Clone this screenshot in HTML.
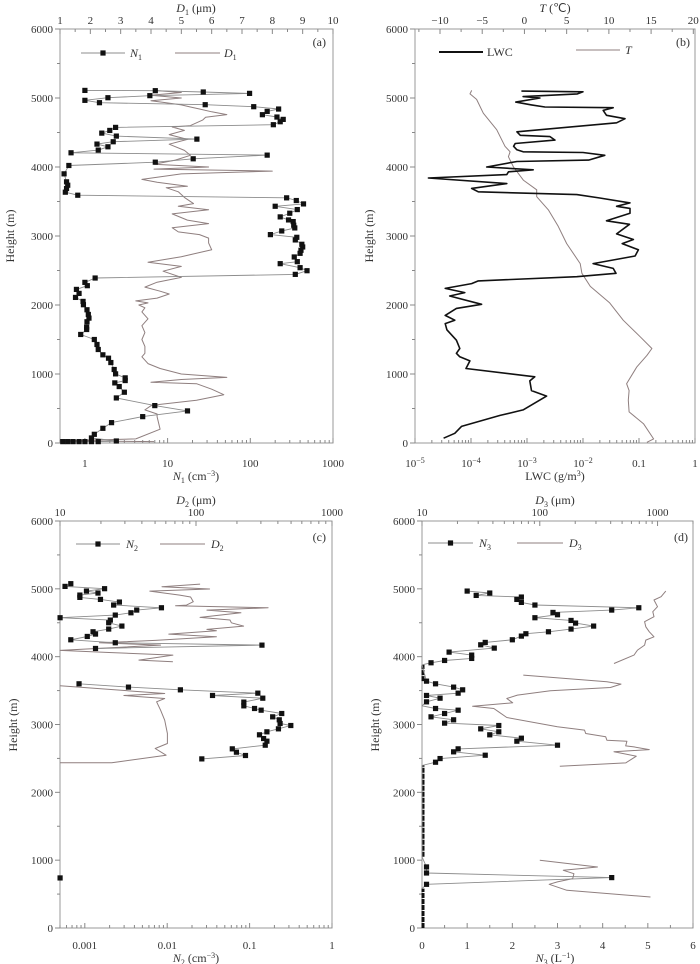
<!DOCTYPE html>
<html><head><meta charset="utf-8"><style>
body{margin:0;background:#fff;}
svg{display:block;font-family:"Liberation Serif",serif;}
</style></head><body>
<svg id="c" width="700" height="964" viewBox="0 0 700 964" xmlns="http://www.w3.org/2000/svg"></svg>
<script>
// ---------- DATA ----------
// Panel (a)
const n1Height=[5110,5106,5087,5067,5034,5004,4966,4932,4903,4874,4840,4806,4758,4724,4690,4656,4613,4574,4530,4491,4448,4404,4366,4332,4293,4245,4206,4172,4119,4070,4022,3901,3785,3736,3688,3635,3591,3553,3514,3465,3431,3383,3330,3277,3233,3209,3156,3117,3073,3020,2981,2943,2880,2841,2793,2749,2696,2628,2599,2541,2497,2444,2391,2328,2280,2226,2168,2110,2052,2004,1931,1863,1810,1757,1679,1645,1573,1500,1428,1355,1278,1229,1166,1065,1002,944,905,871,818,736,653,542,465,382,295,213,126,73,29,20,20,20,20,20,20,20];
const n1Value=[1,7.1,27,98,6.1,1.9,1.0,1.5,28.5,110,220,160,140,210,250,230,190,2.35,2.0,1.6,2.4,22.6,2.2,1.4,1.9,1.45,0.68,160,20.4,7.1,0.64,0.56,0.6,0.62,0.6,0.58,0.82,275,360,440,200,370,300,230,290,330,335,345,240,175,365,350,420,430,410,400,340,370,230,400,485,350,1.33,1.0,1.07,0.79,0.85,0.77,0.95,0.96,1.06,1.1,1.12,1.06,1.05,1.05,0.89,1.3,1.4,1.45,1.65,1.93,2.06,2.26,2.35,3.07,3.07,2.3,2.6,3.0,2.4,7.0,17.4,5.0,2.1,1.65,1.3,1.2,2.4,1.45,1.2,1.0,0.85,0.72,0.62,0.54];
const d1Height=[5110,5080,5040,5000,4960,4930,4900,4870,4840,4800,4760,4720,4680,4640,4600,4580,4530,4470,4400,4330,4240,4170,4100,4040,4000,3970,3940,3900,3820,3780,3720,3700,3640,3560,3470,3430,3380,3320,3230,3180,3120,3060,3020,2970,2900,2800,2700,2620,2560,2490,2400,2330,2260,2200,2160,2100,2060,2030,2000,1960,1900,1800,1700,1600,1500,1400,1300,1250,1150,1080,1000,950,920,880,860,780,700,620,560,540,480,420,380,200,60,30,20];
const d1Value=[4.1,5.0,4.0,5.0,4.0,4.5,5.0,5.3,5.6,6.0,6.5,5.8,5.7,5.5,5.3,4.7,5.1,4.6,5.2,4.6,5.1,5.3,4.8,4.1,5.9,4.1,8.0,5.0,3.7,4.2,5.2,4.5,4.9,5.1,5.4,4.9,5.9,4.7,5.2,5.9,4.7,4.9,5.6,5.9,5.9,6.0,5.0,3.9,5.0,4.4,5.0,4.2,3.8,4.3,4.6,4.2,3.5,3.9,3.6,3.8,3.7,3.9,3.7,3.8,3.7,3.8,3.8,3.7,3.9,4.3,5.0,6.5,5.0,4.0,5.5,6.0,6.4,5.5,4.3,4.0,3.8,4.2,4.2,4.3,3.5,1.0,4.1];
// Panel (b)
const lwcHeight=[5100,5090,5060,5020,5000,4940,4900,4870,4860,4820,4750,4700,4640,4510,4460,4440,4390,4340,4300,4250,4220,4210,4170,4100,4080,4000,3960,3930,3890,3840,3760,3690,3640,3600,3550,3480,3430,3400,3330,3220,3170,3030,2950,2890,2800,2710,2600,2530,2460,2410,2350,2310,2240,2180,2130,2010,1950,1850,1780,1730,1640,1490,1370,1300,1250,1190,1080,960,900,760,680,480,400,240,140,70];
const lwcExp=[-3.10,-2.0,-2.1,-3.07,-2.77,-3.2,-2.92,-2.68,-1.46,-1.64,-1.58,-1.25,-1.4,-3.18,-3.12,-2.59,-2.5,-3.21,-3.24,-3.18,-3.07,-2.0,-1.61,-1.9,-3.18,-3.72,-2.89,-3.33,-3.36,-4.76,-3.36,-3.99,-3.87,-2.11,-1.7,-1.16,-1.4,-1.16,-1.16,-1.58,-1.17,-1.4,-1.1,-1.3,-1.01,-1.07,-1.82,-1.46,-1.41,-2.11,-3.87,-3.99,-4.46,-4.11,-4.38,-3.81,-4.26,-4.46,-4.29,-4.46,-4.43,-4.26,-4.2,-4.26,-4.2,-4.02,-4.09,-2.86,-2.95,-2.92,-2.65,-3.07,-3.48,-4.17,-4.29,-4.49];
const tHeight=[5110,5060,4980,4780,4540,4300,4220,4150,4000,3810,3670,3570,3380,3140,2890,2600,2460,2270,2030,1780,1540,1370,1270,1100,860,760,620,450,280,60,10];
const tValue=[-6.25,-6.45,-5.66,-4.87,-3.29,-2.3,-1.7,-1.9,-1.3,-0.13,1.45,1.45,2.83,4.0,5.0,6.6,6.8,7.8,10.1,11.7,13.7,15.1,14.5,13.3,12.1,12.4,12.3,12.4,14.1,15.3,14.5];
// Panel (c)
const n2Height=[5076,5036,5002,4967,4938,4908,4874,4844,4805,4761,4721,4687,4647,4613,4574,4539,4500,4451,4407,4367,4333,4298,4249,4205,4170,4121,null,3600,3551,3511,3462,3428,3388,3330,3275,3236,3211,3162,3113,3069,3015,2985,2936,2892,2848,2793,2754,2695,2641,2592,2543,2493,null,738];
const n2Exp=[-3.17,-3.24,-2.76,-2.98,-2.84,-3.06,-3.06,-2.81,-2.58,-2.65,-2.07,-2.37,-2.44,-2.63,-3.3,-2.69,-2.71,-2.55,-2.71,-2.9,-2.87,-2.97,-3.17,-2.63,-0.85,-2.87,null,-3.07,-2.47,-1.84,-0.9,-1.45,-0.84,-1.07,-1.07,-0.94,-0.86,-0.61,-0.72,-0.64,-0.63,-0.5,-0.65,-0.79,-0.88,-0.83,-0.79,-0.81,-1.21,-1.16,-1.05,-1.58,null,-3.3];
const d2Height=[5070,5031,4998,4967,4908,4880,4810,4760,4750,4721,4687,4647,4579,4540,4500,4451,4402,4382,4333,4293,4240,4205,4170,4092,4062,4023,3949,3925,null,3570,3457,3428,3383,3334,3211,3064,2867,2720,2646,2548,2435,2435];
const d2Exp=[2.03,1.75,2.1,1.66,1.88,1.96,1.98,1.93,1.85,2.53,2.08,2.33,2.03,2.25,2.26,2.35,2.08,2.15,1.8,2.15,1.7,1.29,1.74,1.0,1.36,1.83,1.58,1.83,null,1.0,1.77,1.47,1.77,1.71,1.74,1.77,1.79,1.79,1.7,1.78,1.38,1.0];
// Panel (d)
const n3Height=[4967,4938,4903,4879,4844,4800,4761,4721,4687,4652,4618,4574,4534,4495,4451,4407,4367,4338,4303,4249,4210,4175,4126,4067,4023,3974,3944,3910,3880,3639,3600,3551,3511,3462,3428,3388,3334,3275,3236,3211,3162,3113,3069,3020,2985,2936,2892,2848,2798,2754,2695,2641,2597,2547,2498,2444,2395,1050,900,811,743,644,580];
const n3Value=[1.0,1.5,1.2,2.2,2.1,2.2,2.5,4.8,4.2,2.9,3.0,2.5,3.3,3.4,3.8,3.3,2.8,2.3,2.2,2.0,1.4,1.3,1.6,0.6,1.1,1.1,0.5,0.2,0,0.1,0.3,0.7,0.9,0.8,0.1,0.4,0.1,0,0.3,0.8,0.5,0.2,0.7,0.5,1.7,1.3,1.7,1.5,2.2,2.1,3.0,0.8,0.7,1.4,0.4,0.3,0,0,0.1,0.1,4.2,0.1,0];
const n3ZeroFrom=[3640,1050,0];
const n3ZeroTo=[3880,2395,580];
const d3Height=[4967,4884,4835,4737,4663,4589,4515,4441,4367,4293,4244,4171,4097,4023,3900,null,3728,3629,3595,3546,3497,3433,3384,3320,3310,3270,3236,3187,3103,2966,2918,2867,2818,2769,2754,2685,2670,2630,2597,2533,2434,2385,null,1000,900,851,801,728,679,644,556,457];
const d3Exp=[3.07,3.03,2.97,3.0,2.96,2.97,2.89,2.9,2.93,2.97,2.9,2.89,2.83,2.8,2.63,null,1.86,2.57,2.69,2.6,2.09,1.81,1.72,1.77,1.7,1.43,1.61,1.65,1.72,2.15,2.38,2.39,2.56,2.57,2.74,2.73,2.8,2.93,2.63,2.82,2.73,2.17,null,2.0,2.49,2.2,2.29,2.28,2.15,2.08,2.23,2.94];

// ---------- DRAWING ----------
const svg=document.getElementById('c');
const NS='http://www.w3.org/2000/svg';
function el(tag,attrs,parent){const e=document.createElementNS(NS,tag);for(const k in attrs)e.setAttribute(k,attrs[k]);(parent||svg).appendChild(e);return e;}
function txt(s,x,y,anchor,size,parent,name,style){const t=el('text',{x:x,y:y,'text-anchor':anchor||'middle','font-size':size||11,fill:'#333'},parent);if(style)t.setAttribute('font-style',style);t.innerHTML=s;


return t;}
function linScale(d0,d1,r0,r1){return v=>r0+(v-d0)/(d1-d0)*(r1-r0);}
function logScale(d0,d1,r0,r1){const a=Math.log10(d0),b=Math.log10(d1);return v=>r0+(Math.log10(v)-a)/(b-a)*(r1-r0);}
function expScale(e0,e1,r0,r1){return v=>r0+(v-e0)/(e1-e0)*(r1-r0);}

function panel(id,L,R,T,B){
  const g=el('g',{});
  
  
  const y=linScale(0,6000,B,T);
  const fr=el('rect',{x:L,y:T,width:R-L,height:B-T,fill:'none',stroke:'#999','stroke-width':1},g);
  
  
  for(let h=0;h<=6000;h+=500){const yy=y(h);const major=h%1000===0;
    el('line',{x1:L-(major?5:3),x2:L,y1:yy,y2:yy,stroke:'#888','stroke-width':1},g);
    if(major)txt(String(h),L-7,yy+4,'end',11,g,'y-tick-label');}
  return {g,y};
}
function xTicksLog(g,sc,d0,d1,yy,dir,labels,labelY,fmt){
  for(let e=Math.floor(Math.log10(d0))-1;e<=Math.ceil(Math.log10(d1));e++){
    for(let m=1;m<10;m++){const v=m*Math.pow(10,e);if(v<d0*0.999||v>d1*1.001)continue;
      const x=sc(v);el('line',{x1:x,x2:x,y1:yy,y2:yy+dir*(m===1?5:3),stroke:'#888'},g);
      if(m===1&&labels)txt(fmt(e),x,labelY,'middle',11,g,'x-tick-label');}}
}
function xTicksLin(g,sc,d0,d1,step,minor,yy,dir,labelY,fmt){
  for(let v=Math.ceil(d0/minor)*minor;v<=d1+1e-9;v+=minor){const x=sc(v);const isM=Math.abs(v/step-Math.round(v/step))<1e-6;
    el('line',{x1:x,x2:x,y1:yy,y2:yy+dir*(isM?5:3),stroke:'#888'},g);
    if(isM)txt(fmt(Math.round(v)),x,labelY,'middle',11,g,'x-tick-label');}
}
function path(g,xs,ys,stroke,w,name){
  let d='',pen=false;
  for(let i=0;i<xs.length;i++){if(xs[i]===null||ys[i]===null){pen=false;continue;}
    d+=(pen?'L':'M')+xs[i].toFixed(1)+' '+ys[i].toFixed(1);pen=true;}
  const p=el('path',{d:d,fill:'none',stroke:stroke,'stroke-width':w,'stroke-linejoin':'round'},g);
  
  
  return p;
}
function squares(g,xs,ys,name){
  for(let i=0;i<xs.length;i++){if(xs[i]===null||ys[i]===null)continue;
    const r=el('rect',{x:xs[i]-2.6,y:ys[i]-2.6,width:5.2,height:5.2,fill:'#111'},g);
    
    }
}
function heightTitle(g,x,cy){const t=txt('Height (m)',x,cy,'middle',12,g,'y-axis-title');t.setAttribute('transform','rotate(-90 '+x+' '+cy+')');}
function legendEntry(g,x1,x2,y,color,w,sq,label,tx,name){
  const lg=el('g',{},g);
  
  
  el('line',{x1:x1,x2:x2,y1:y,y2:y,stroke:color,'stroke-width':w},lg);
  if(sq)el('rect',{x:(x1+x2)/2-2.6,y:y-2.6,width:5.2,height:5.2,fill:'#111'},lg);
  txt(label,tx,y+4,'start',12,lg,'legend-label');
}
const sup=s=>'<tspan font-size="8" dy="-4">'+s+'</tspan>';
const sub=s=>'<tspan font-size="8" dy="3" font-style="normal">'+s+'</tspan>';
const GRAY='#8c8c8c', BROWN='#8f7f7f';

// ===== Panel a =====
(function(){
  const L=60,R=333,T=29,B=443;
  const {g,y}=panel('a',L,R,T,B);
  const xN=logScale(0.5,1000,L,R), xD=linScale(1,10,L,R);
  xTicksLog(g,xN,0.5,1000,B,-1,true,467,e=>String(Math.pow(10,e)));
  xTicksLin(g,xD,1,10,1,0.5,T,1,24,v=>String(v));
  txt('<tspan font-style="italic">N</tspan>'+sub('1')+' <tspan dy="-3">(cm</tspan>'+sup('−3')+'<tspan dy="4">)</tspan>',196,480,'middle',12,g,'x-axis-title-bottom');
  txt('<tspan font-style="italic">D</tspan>'+sub('1')+' <tspan dy="-3">(μm)</tspan>',196,12,'middle',12,g,'x-axis-title-top');
  heightTitle(g,14,236);
  path(g,d1Value.map(xD),d1Height.map(y),BROWN,1,'d1-line');
  const nx=n1Value.map(xN), ny=n1Height.map(y);
  path(g,nx,ny,GRAY,0.9,'n1-line');
  squares(g,nx,ny,'n1-point');
  legendEntry(g,81,125,53,GRAY,1,true,'<tspan font-style="italic">N</tspan>'+sub('1'),130,'legend-n1');
  legendEntry(g,175,220,53,BROWN,1,false,'<tspan font-style="italic">D</tspan>'+sub('1'),224,'legend-d1');
  txt('(a)',326,46,'end',12,g,'panel-label');
})();
// ===== Panel b =====
(function(){
  const L=415,R=695,T=29,B=443;
  const {g,y}=panel('b',L,R,T,B);
  const xL=expScale(-5,0,L,R), xT=linScale(-12.96,20.2,L,R);
  xTicksLog(g,v=>xL(Math.log10(v)),1e-5,1,B,-1,true,467,e=>e===0?'1':(e===-1?'0.1':'10'+sup('−'+(-e))));
  xTicksLin(g,xT,-12.96,20.2,5,2.5,T,1,24,v=>v<0?'−'+(-v):String(v));
  txt('LWC <tspan dy="0">(g/m</tspan>'+sup('3')+'<tspan dy="4">)</tspan>',555,480,'middle',12,g,'x-axis-title-bottom');
  txt('<tspan font-style="italic">T</tspan> (℃)',555,12,'middle',12,g,'x-axis-title-top');
  heightTitle(g,373,236);
  path(g,tValue.map(xT),tHeight.map(y),BROWN,1,'temperature-line');
  path(g,lwcExp.map(xL),lwcHeight.map(y),'#111',1.6,'lwc-line');
  legendEntry(g,439,483,52,'#111',2,false,'LWC',487,'legend-lwc');
  legendEntry(g,576,620,50,BROWN,1,false,'<tspan font-style="italic">T</tspan>',625,'legend-t');
  txt('(b)',690,46,'end',12,g,'panel-label');
})();
// ===== Panel c =====
(function(){
  const L=60,R=332,T=521,B=928;
  const {g,y}=panel('c',L,R,T,B);
  const eN=Math.log10(0.0005);
  const xN=expScale(eN,0,L,R), xD=expScale(1,3,L,R);
  xTicksLog(g,v=>xN(Math.log10(v)),0.0005,1,B,-1,true,949,e=>e===0?'1':(Math.pow(10,e)).toFixed(-e));
  xTicksLog(g,v=>xD(Math.log10(v)),10,1000,T,1,true,516,e=>String(Math.pow(10,e)));
  txt('<tspan font-style="italic">N</tspan>'+sub('2')+' <tspan dy="-3">(cm</tspan>'+sup('−3')+'<tspan dy="4">)</tspan>',196,962,'middle',12,g,'x-axis-title-bottom');
  txt('<tspan font-style="italic">D</tspan>'+sub('2')+' <tspan dy="-3">(μm)</tspan>',196,504,'middle',12,g,'x-axis-title-top');
  heightTitle(g,17,725);
  path(g,d2Exp.map(v=>v===null?null:xD(v)),d2Height.map(v=>v===null?null:y(v)),BROWN,1,'d2-line');
  const nx=n2Exp.map(v=>v===null?null:xN(v)), ny=n2Height.map(v=>v===null?null:y(v));
  path(g,nx,ny,GRAY,0.9,'n2-line');
  squares(g,nx,ny,'n2-point');
  legendEntry(g,76,120,544,GRAY,1,true,'<tspan font-style="italic">N</tspan>'+sub('2'),126,'legend-n2');
  legendEntry(g,160,205,544,BROWN,1,false,'<tspan font-style="italic">D</tspan>'+sub('2'),211,'legend-d2');
  txt('(c)',326,541,'end',12,g,'panel-label');
})();
// ===== Panel d =====
(function(){
  const L=422,R=693,T=521,B=928;
  const {g,y}=panel('d',L,R,T,B);
  const xN=linScale(0,6,L,R), eMax=Math.log10(2000), xD=expScale(1,eMax,L,R);
  xTicksLin(g,xN,0,6,1,0.5,B,-1,949,v=>String(v));
  xTicksLog(g,v=>xD(Math.log10(v)),10,2000,T,1,true,516,e=>String(Math.pow(10,e)));
  txt('<tspan font-style="italic">N</tspan>'+sub('3')+' <tspan dy="-3">(L</tspan>'+sup('−1')+'<tspan dy="4">)</tspan>',555,962,'middle',12,g,'x-axis-title-bottom');
  txt('<tspan font-style="italic">D</tspan>'+sub('3')+' <tspan dy="-3">(μm)</tspan>',555,504,'middle',12,g,'x-axis-title-top');
  heightTitle(g,379,725);
  path(g,d3Exp.map(v=>v===null?null:xD(v)),d3Height.map(v=>v===null?null:y(v)),BROWN,1,'d3-line');
  for(let i=0;i<n3ZeroFrom.length;i++){
    const z=el('line',{x1:xN(0)+1,x2:xN(0)+1,y1:y(n3ZeroFrom[i]),y2:y(n3ZeroTo[i]),stroke:'#111','stroke-width':3,'stroke-dasharray':'5 1'},g);
    
    
  }
  const nx=n3Value.map(xN), ny=n3Height.map(y);
  path(g,nx,ny,GRAY,0.9,'n3-line');
  squares(g,nx.map((v,i)=>n3Value[i]===0?null:v),ny,'n3-point');
  legendEntry(g,428,473,543,GRAY,1,true,'<tspan font-style="italic">N</tspan>'+sub('3'),479,'legend-n3');
  legendEntry(g,517,563,543,BROWN,1,false,'<tspan font-style="italic">D</tspan>'+sub('3'),569,'legend-d3');
  txt('(d)',688,541,'end',12,g,'panel-label');
})();
</script>
</body></html>
